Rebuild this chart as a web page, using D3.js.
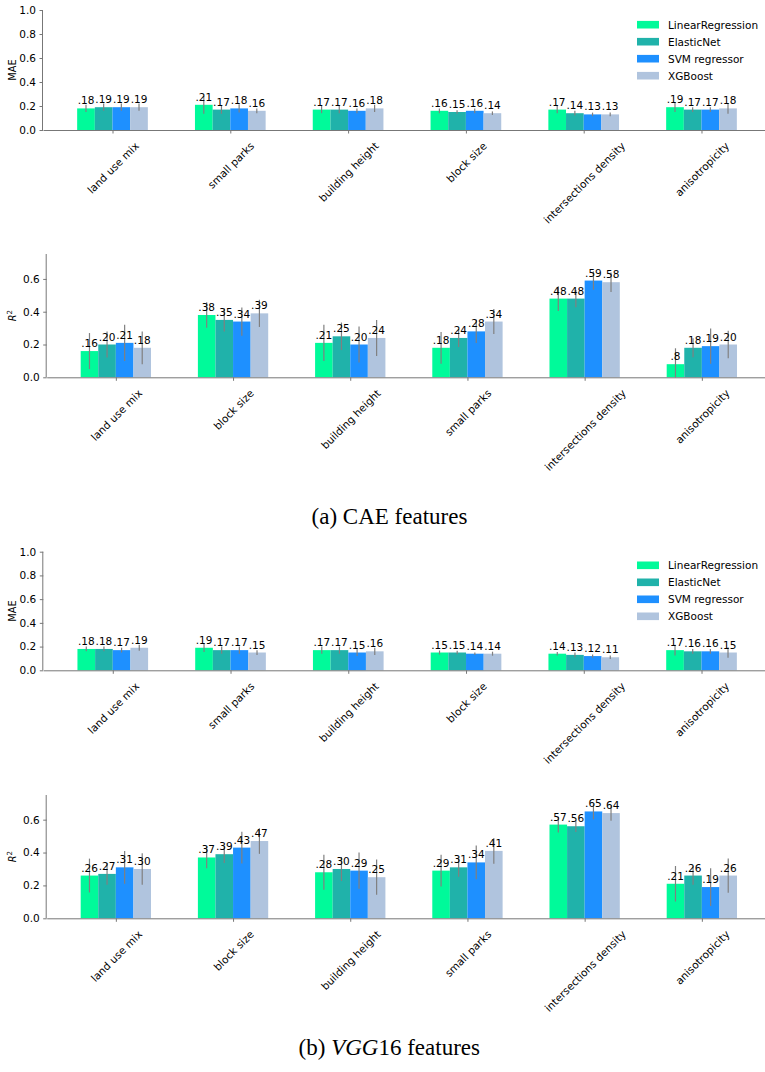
<!DOCTYPE html>
<html>
<head>
<meta charset="utf-8">
<script src="https://cdn.jsdelivr.net/npm/d3@7"></script>
<style>
  html, body { margin: 0; padding: 0; background: #fff; }
  svg { display: block; }
  text { font-family: "DejaVu Sans", sans-serif; fill: #000; }
  .caption { font-family: "Liberation Serif", "DejaVu Serif", serif; }
</style>
</head>
<body>
<svg id="chart" width="765" height="1072"></svg>
<script>
// Models compared in every panel
const models = ["LinearRegression", "ElasticNet", "SVM regressor", "XGBoost"];
const modelColors = ["#00fa9a", "#20b2aa", "#1e90ff", "#b0c4de"];

// Feature order per panel
const maeFeatures = ["land use mix", "small parks", "building height", "block size", "intersections density", "anisotropicity"];
const r2Features = ["land use mix", "block size", "building height", "small parks", "intersections density", "anisotropicity"];

// Tick values
const maeTicks = [0.0, 0.2, 0.4, 0.6, 0.8, 1.0];
const r2Ticks = [0.0, 0.2, 0.4, 0.6];

// (a) CAE features — MAE (rows: models, columns: features)
const caeMae = [
  [0.18, 0.21, 0.17, 0.16, 0.17, 0.19],
  [0.19, 0.17, 0.17, 0.15, 0.14, 0.17],
  [0.19, 0.18, 0.16, 0.16, 0.13, 0.17],
  [0.19, 0.16, 0.18, 0.14, 0.13, 0.18]
];
const caeMaeErr = [
  [0.03, 0.075, 0.03, 0.02, 0.03, 0.04],
  [0.03, 0.035, 0.03, 0.015, 0.02, 0.02],
  [0.03, 0.035, 0.02, 0.02, 0.015, 0.02],
  [0.03, 0.02, 0.03, 0.015, 0.015, 0.045]
];

// (a) CAE features — R²
const caeR2 = [
  [0.16, 0.38, 0.21, 0.18, 0.48, 0.08],
  [0.20, 0.35, 0.25, 0.24, 0.48, 0.18],
  [0.21, 0.34, 0.20, 0.28, 0.59, 0.19],
  [0.18, 0.39, 0.24, 0.34, 0.58, 0.20]
];
const caeR2Err = [
  [0.11, 0.078, 0.11, 0.097, 0.076, 0.097],
  [0.08, 0.07, 0.084, 0.055, 0.053, 0.058],
  [0.11, 0.086, 0.11, 0.071, 0.056, 0.107],
  [0.10, 0.083, 0.11, 0.076, 0.059, 0.084]
];

// (b) VGG16 features — MAE
const vggMae = [
  [0.18, 0.19, 0.17, 0.15, 0.14, 0.17],
  [0.18, 0.17, 0.17, 0.15, 0.13, 0.16],
  [0.17, 0.17, 0.15, 0.14, 0.12, 0.16],
  [0.19, 0.15, 0.16, 0.14, 0.11, 0.15]
];
const vggMaeErr = [
  [0.02, 0.035, 0.03, 0.017, 0.015, 0.045],
  [0.02, 0.03, 0.03, 0.015, 0.02, 0.02],
  [0.02, 0.03, 0.03, 0.01, 0.014, 0.02],
  [0.025, 0.02, 0.03, 0.017, 0.014, 0.045]
];

// (b) VGG16 features — R²
const vggR2 = [
  [0.26, 0.37, 0.28, 0.29, 0.57, 0.21],
  [0.27, 0.39, 0.30, 0.31, 0.56, 0.26],
  [0.31, 0.43, 0.29, 0.34, 0.65, 0.19],
  [0.30, 0.47, 0.25, 0.41, 0.64, 0.26]
];
const vggR2Err = [
  [0.103, 0.066, 0.107, 0.096, 0.048, 0.108],
  [0.066, 0.053, 0.073, 0.058, 0.035, 0.056],
  [0.10, 0.096, 0.11, 0.103, 0.048, 0.115],
  [0.096, 0.078, 0.107, 0.078, 0.047, 0.104]
];

const svg = d3.select("#chart");
const FS = 10.5;
const BAR_W = 0.15;
const AXIS_COLOR = "#777";

// Bar value labels: leading zero dropped, hundredths as an integer
const fmtLabel = v => "." + Math.round(v * 100);

function drawPanel(opt) {
  const g = svg.append("g");
  const x = d3.scaleLinear().domain([-0.59, 5.59]).range([opt.left, 771]);
  const y = d3.scaleLinear().domain(opt.yDomain).range([opt.bottom, opt.top]);

  // bars
  opt.values.forEach((series, m) => {
    const off = (m - 1.5) * BAR_W;
    g.append("g").selectAll("rect").data(series).join("rect")
      .attr("x", (d, i) => x(i + off - BAR_W / 2))
      .attr("width", x(BAR_W) - x(0))
      .attr("y", d => y(d))
      .attr("height", d => y(0) - y(d))
      .attr("fill", modelColors[m]);
  });

  // error bars
  opt.values.forEach((series, m) => {
    const off = (m - 1.5) * BAR_W;
    g.append("g").selectAll("line").data(series).join("line")
      .attr("x1", (d, i) => x(i + off)).attr("x2", (d, i) => x(i + off))
      .attr("y1", (d, i) => y(Math.max(0, d - opt.errors[m][i])))
      .attr("y2", (d, i) => y(d + opt.errors[m][i]))
      .attr("stroke", "#808080").attr("stroke-width", 1.2);
  });

  // value labels
  opt.values.forEach((series, m) => {
    const off = (m - 1.5) * BAR_W;
    g.append("g").selectAll("text").data(series).join("text")
      .attr("x", (d, i) => x(i + off))
      .attr("y", d => y(d) - 4)
      .attr("text-anchor", "middle")
      .attr("font-size", FS)
      .text(fmtLabel);
  });

  // y axis
  const yAxis = d3.axisLeft(y).tickValues(opt.ticks).tickFormat(d3.format(".1f")).tickSize(3.5).tickPadding(3.5);
  const ya = g.append("g").attr("transform", `translate(${opt.left},0)`).call(yAxis);
  ya.select(".domain").attr("stroke", AXIS_COLOR).attr("d", `M-0.5,${opt.bottom}V${opt.top}`);
  ya.selectAll(".tick line").attr("stroke", AXIS_COLOR);
  ya.selectAll(".tick text").attr("font-size", FS).attr("font-family", "DejaVu Sans").attr("fill", "#000");

  // x axis
  const xAxis = d3.axisBottom(x).tickValues(d3.range(opt.features.length)).tickFormat(i => opt.features[i]).tickSize(3.5).tickSizeOuter(0);
  const xa = g.append("g").attr("transform", `translate(0,${opt.bottom})`).call(xAxis);
  xa.select(".domain").attr("stroke", AXIS_COLOR);
  xa.selectAll(".tick line").attr("stroke", AXIS_COLOR);
  xa.selectAll(".tick text").each(function () {
    const t = d3.select(this);
    t.attr("font-size", FS).attr("font-family", "DejaVu Sans").attr("fill", "#000")
      .attr("dy", null).attr("y", null)
      .attr("text-anchor", "middle").attr("dominant-baseline", "central");
    const w = this.getComputedTextLength();
    const h = FS * 1.17;
    const half = (w + h) / (2 * Math.SQRT2);
    t.attr("transform", `translate(0,${9.5 + half}) rotate(-45)`);
  });

  // y-axis title
  const cy = (opt.top + opt.bottom) / 2;
  const title = g.append("text")
    .attr("transform", `translate(${opt.titleX},${cy}) rotate(-90)`)
    .attr("text-anchor", "middle")
    .attr("font-size", 9.8);
  if (opt.title === "R2") {
    title.append("tspan").attr("font-style", "italic").text("R");
    title.append("tspan").attr("font-size", 7).attr("dy", -4).text("2");
  } else {
    title.text(opt.title);
  }

  // legend
  if (opt.legendTop != null) {
    const lg = g.append("g");
    models.forEach((name, m) => {
      const cyL = opt.legendTop + m * 17;
      lg.append("rect").attr("x", 637).attr("y", cyL - 3.8).attr("width", 22).attr("height", 7.6).attr("fill", modelColors[m]);
      lg.append("text").attr("x", 668).attr("y", cyL).attr("dominant-baseline", "central").attr("font-size", FS).text(name);
    });
  }
}

drawPanel({ values: caeMae, errors: caeMaeErr, features: maeFeatures, ticks: maeTicks,
  yDomain: [0, 1], top: 10, bottom: 130, left: 43, title: "MAE", titleX: 16, legendTop: 24.7 });
drawPanel({ values: caeR2, errors: caeR2Err, features: r2Features, ticks: r2Ticks,
  yDomain: [0, 0.752], top: 254, bottom: 377.3, left: 46.7, title: "R2", titleX: 16, legendTop: null });
drawPanel({ values: vggMae, errors: vggMaeErr, features: maeFeatures, ticks: maeTicks,
  yDomain: [0, 1], top: 551.7, bottom: 670.3, left: 43.3, title: "MAE", titleX: 16, legendTop: 565.3 });
drawPanel({ values: vggR2, errors: vggR2Err, features: r2Features, ticks: r2Ticks,
  yDomain: [0, 0.75], top: 795, bottom: 918.3, left: 46.7, title: "R2", titleX: 16, legendTop: null });

// sub-figure captions
svg.append("text").attr("class", "caption").attr("x", 389.5).attr("y", 524)
  .attr("text-anchor", "middle").attr("font-size", 23).text("(a) CAE features");
const capB = svg.append("text").attr("class", "caption").attr("x", 389.3).attr("y", 1055)
  .attr("text-anchor", "middle").attr("font-size", 23);
capB.append("tspan").text("(b) ");
capB.append("tspan").attr("font-style", "italic").text("VGG");
capB.append("tspan").text("16 features");
</script>
</body>
</html>
